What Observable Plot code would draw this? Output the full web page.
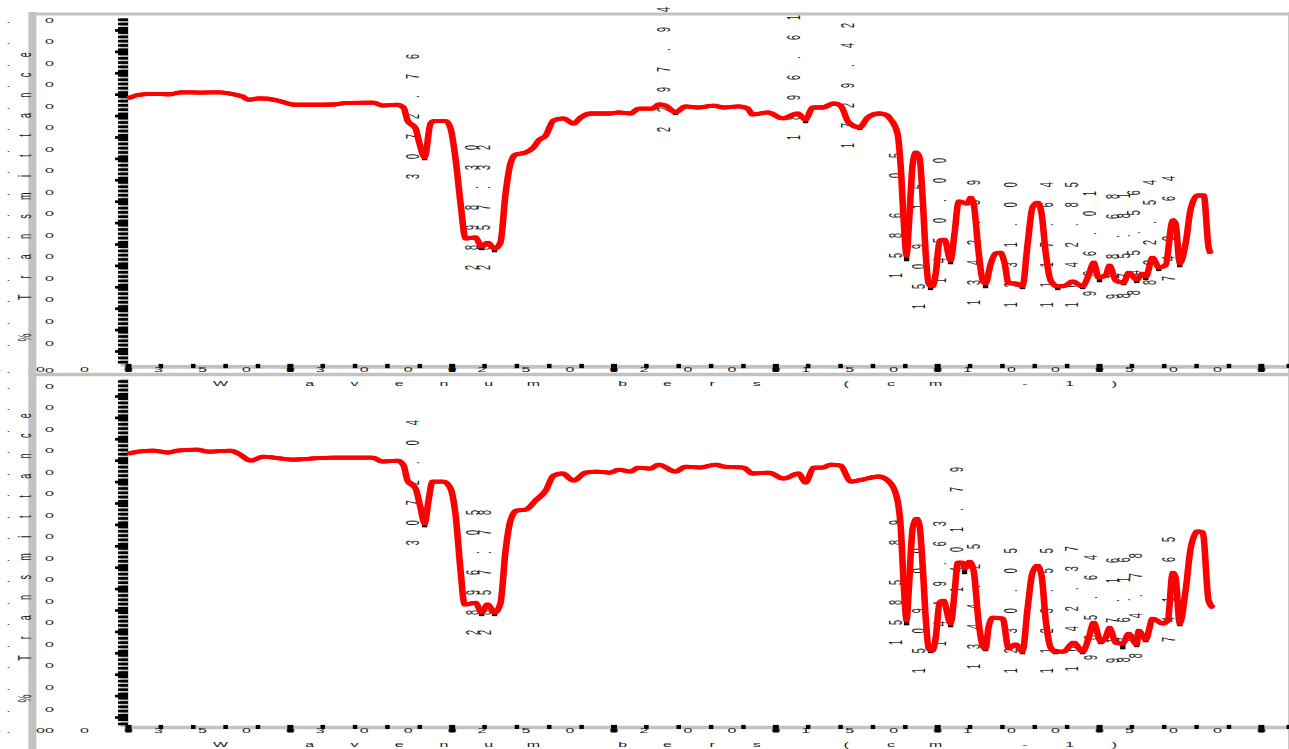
<!DOCTYPE html>
<html><head><meta charset="utf-8">
<style>html,body{margin:0;padding:0;background:#fff;overflow:hidden}svg{display:block}</style>
<script src="https://cdn.jsdelivr.net/npm/d3@7"></script>
<script src="https://cdn.jsdelivr.net/npm/@observablehq/plot@0.6"></script>
</head><body><script>
const topWave=[4000,3969,3923,3870,3839,3777,3716,3676,3648,3629,3598,3570,3530,3490,3428,3367,3323,3243,3215,3169,3150,3138,3113,3101,3085,3067,3057,3020,3005,2990,2974,2959,2928,2909,2891,2869,2851,2835,2820,2804,2773,2749,2733,2711,2687,2656,2625,2603,2572,2511,2486,2449,2424,2381,2362,2341,2310,2279,2242,2192,2161,2115,2087,2072,2025,1979,1933,1908,1886,1855,1821,1800,1775,1741,1716,1682,1661,1645,1624,1614,1605,1596,1590,1577,1568,1556,1546,1537,1528,1516,1506,1494,1479,1460,1448,1435,1408,1398,1389,1373,1361,1352,1336,1321,1306,1293,1281,1259,1238,1222,1207,1191,1179,1166,1151,1129,1105,1083,1052,1034,1018,1003,981,969,950,925,910,885,867,857,836,817,796,774,765,752,734,718,697,678,663,657];
const topT=[118.3,119.9,120.4,120.2,121.1,121,121.1,120.2,119.1,117.6,118.3,118.1,116.9,115.3,115.3,115.4,116.2,116.3,114.9,115.3,113.9,107.9,104.2,97.2,90.8,106.5,107.6,107.6,104.2,90.6,69.1,52.8,53.3,49,50.9,48.1,50.9,73.8,87.8,92,93,95.3,98.6,100.9,107.9,108.9,106.5,109.3,111.2,111.2,111.7,111.2,113.5,113.5,115.4,114.9,111.7,114.5,114,114.9,114,114.5,113.5,110.7,111.7,108.9,111.2,108.4,114,114,115.9,114.9,107,104.7,109.3,111.2,110.7,108.4,101.8,86,61.2,44.8,56.5,87.8,93,90.6,70.5,45.8,31.8,30.4,36.4,51.8,52.3,42.5,55.1,70.1,69.1,71.9,69.1,45.8,33.2,31.8,41.1,45.8,46.2,41.1,31.8,31.8,30.4,50.4,67.3,69.6,64.5,45.8,33.2,30.4,30.8,32.7,30.4,35.5,41.6,34.6,35.5,40.2,33.2,32.2,36.9,33.6,36.4,35,43.9,39.2,40.2,61.2,59.8,41.1,50.4,66.8,72.9,72.9,48.6,45.8];
const bottomWave=[4000,3969,3923,3876,3849,3787,3756,3685,3660,3623,3583,3552,3490,3438,3367,3305,3246,3215,3169,3150,3138,3113,3098,3085,3073,3061,3027,3005,2990,2974,2962,2943,2928,2909,2891,2869,2851,2835,2820,2801,2773,2742,2711,2687,2659,2625,2588,2551,2511,2486,2449,2424,2387,2362,2310,2279,2233,2186,2161,2100,2072,2022,1976,1930,1908,1883,1855,1831,1800,1769,1732,1682,1645,1624,1614,1605,1596,1590,1577,1565,1556,1546,1537,1528,1516,1506,1494,1482,1460,1448,1438,1423,1417,1401,1389,1373,1361,1352,1343,1330,1299,1281,1259,1238,1222,1207,1191,1179,1166,1151,1136,1111,1080,1052,1034,1018,996,981,969,950,928,910,885,879,857,836,805,789,774,765,752,734,718,697,681,663,650];
const bottomT=[123.3,124.2,124.7,123.8,124.7,125.2,124.2,124.7,123.3,120,121.9,121.4,120.5,121,121.4,121.4,121.4,119.6,120,117.7,110.7,107,98.1,90.6,101.4,110.2,110.2,107,95.3,68.6,52.8,53.2,53.7,49,52.8,49,53.2,78,92,96.7,97.1,101.4,106,113,114,110.7,114.4,114.9,114.4,115.8,114.9,116.8,116.3,118.2,114.9,117.2,116.8,118.2,117.2,116.8,114,114.4,111.6,114,109.8,116.8,116.8,118.2,117.7,110.2,111.2,112.6,109.3,101.4,88.7,62.6,45.3,57.9,88.7,92.9,89.7,70,46.7,32.2,31.3,37.3,53.7,54.6,43.9,57.9,72.4,72.4,69.6,72.8,68.6,43.9,33.6,32.2,42,46.7,46.2,32.2,34.1,30.8,51.3,67.7,71,66.3,45.3,32.7,30.8,30.8,35,30.8,36.9,44.3,35.5,37.3,42,35,34.5,39.2,34.1,40.6,36.4,46.2,43.9,45.3,67.7,65.4,43.9,59.3,79.4,86.9,86.4,54.6,51.3];

const topPeakWave=[3085,2909,2869,2310,1908,1741,1596,1522,1460,1352,1238,1129,1052,1000,925,885,857,817,752];
const topPeakT=[90.6,48.6,47.6,111.7,107.9,104.7,43.4,29.9,42,30.8,30.4,29.9,30.4,33.6,32.2,33.2,34.6,38.8,40.6];
const bottomPeakWave=[3085,2909,2869,1596,1522,1460,1417,1352,1238,1136,1052,996,928,885,857,752];
const bottomPeakT=[90.1,48.6,48.6,44.3,31.3,43.4,68.2,32.2,30.8,30.8,30.8,35.5,33.1,34.1,36.4,43.9];

const topLabels=["3072.76","2898.30","2857.32","2297.94","1896.61","1729.42","1586.05","1509.16","1450.00","1342.59","1231.00","1117.64","1042.85","986.01","918.68","875.81","845.56","802.54","740.64"];
const topLabelWave=[3119,2937,2900,2344,1942,1775,1627,1556,1491,1386,1272,1160,1083,1030,959,925,894,842,786];
const topLabelT=[81.8,39.2,39.2,103.7,100,96.2,35.5,21,33.2,22.9,21.9,21.9,21.9,27.1,25.7,26.1,27.5,32.2,34.1];
const bottomLabels=["3072.04","2896.05","2857.78","1585.89","1509.00","1449.63","1401.79","1344.25","1230.05","1123.55","1042.37","985.64","917.16","876.16","844.78","741.65"];
const bottomLabelWave=[3119,2934,2897,1627,1556,1491,1441,1386,1272,1160,1083,1027,959,925,888,786];
const bottomLabelT=[81.7,39.7,39.7,35,21.9,34.5,59.8,23.8,21.9,21.9,22.8,28,26.6,27,28.9,36.4];

const xMajor=[4000,3500,3000,2500,2000,1500,1000,500];
const xMajorLabels=["4000","3500","3000","2500","2000","1500","1000","5000"];
const xMinor=[3900,3800,3700,3600,3400,3300,3200,3100,2900,2800,2700,2600,2400,2300,2200,2100,1900,1800,1700,1600,1400,1300,1200,1100,900,800,700,600,415];
const yLabels=["150.0","140.0","130.0","120.0","110.0","100.0","90.0","80.0","70.0","60.0","50.0","40.0","30.0","20.0","10.0","0.0","-10.0"];
const yLabelPos=[154.7,144.7,134.6,124.6,114.5,104.5,94.4,84.4,74.3,64.3,54.2,44.2,34.1,24.1,14,4];
const yTitle="%Transmittance", xTitle="Wavenumbers (cm-1)";
const yTitleSlots=[0,2,3,4,5,6,7,8,9,10,11,12,13,14];
const xTitleSlots=[0,2,3,4,5,6,7,9,10,11,12,13,14,15,16,18,19,20];

const gray="#c2c2c2", ink="#1a1a1a", font="Liberation Sans";
const W=1289;
const yLabelWave=4244, yTitleWave=4318, xTitleWave=3716;
const penOffsets=[-1.4,0,1.4];

function spread(svg,cls,stride,sx,sy,slots){
  svg.querySelectorAll(`g.${cls} text`).forEach(t=>{
    const s=t.textContent;
    t.setAttribute("x",Array.from(s,(_,i)=>slots(i,s.length)*stride).join(" "));
    t.setAttribute("transform",(t.getAttribute("transform")||"")+` scale(${sx},${sy})`);
  });
}

function panel(o){
  const minor=d3.range(o.tickBottom,o.tickTop+0.01,2), major=d3.range(0,o.tickTop+0.01,10);
  const t=(strs,x,y,cls,extra={})=>Plot.text(strs,{x,y,text:d=>d,fontSize:16,fontFamily:font,fill:ink,className:cls,lineAnchor:"middle",...extra});
  const svg=Plot.plot({
    width:W,height:o.height,margin:0,
    style:{background:"transparent",overflow:"visible"},
    x:{domain:[4000,413],range:[128,W],axis:null},
    y:{domain:o.yDomain,range:[o.height,0],axis:null},
    marks:[
      Plot.ruleX([4297],{y1:o.frameTop,y2:o.frameBottom,stroke:gray,strokeWidth:8}),
      Plot.ruleY([o.topBand],{x1:4297,x2:413,stroke:gray,strokeWidth:o.topBandW}),
      Plot.ruleX([415],{y1:o.frameTop,y2:o.frameBottom,stroke:gray,strokeWidth:1.5}),
      Plot.ruleX([4012],{y1:o.tickTop,y2:o.band,stroke:gray,strokeWidth:8}),
      Plot.ruleY([o.band],{x1:4012,x2:413,stroke:gray,strokeWidth:3.6}),
      Plot.ruleY(minor,{x1:4031,x2:4000,stroke:"#000",strokeWidth:2.7}),
      Plot.ruleY(major,{x1:4040,x2:4000,stroke:"#000",strokeWidth:2.7}),
      Plot.ruleX(xMinor,{y1:o.xt1,y2:o.xt2,stroke:"#000",strokeWidth:4.5}),
      Plot.ruleX(xMajor,{y1:o.xt1,y2:o.xt3,stroke:"#000",strokeWidth:6}),
      t(o.yLabels,()=>yLabelWave,(d,i)=>o.yLabelPos[i],"ylab"),
      t(xMajorLabels,(d,i)=>xMajor[i],()=>o.xLabelT,"xlab"),
      t([xTitle],()=>xTitleWave,()=>o.xTitleT,"xtitle"),
      t([yTitle],()=>yTitleWave,()=>o.yTitleT,"ytitle",{rotate:-90,fontSize:18}),
      t(o.labels,(d,i)=>o.labelWave[i],(d,i)=>o.labelT[i],"peak",{rotate:-90,fontSize:18}),
      Plot.dot(o.peakWave,{x:d=>d,y:(d,i)=>o.peakT[i],symbol:"square",r:3,fill:"#000",stroke:null}),
      ...penOffsets.map(dx=>Plot.line(o.wave,{x:d=>d,y:(d,i)=>o.T[i],dx,curve:"monotone-x",stroke:"#ff0000",strokeWidth:3.8,strokeLinejoin:"round",strokeLinecap:"butt"}))
    ]
  });
  spread(svg,"ylab",41,1,0.5,(i,n)=>i-(n-1));
  spread(svg,"xlab",44,1,0.5,(i,n)=>i-(n-1));
  spread(svg,"xtitle",44.7,1,0.5,i=>xTitleSlots[i]);
  spread(svg,"ytitle",40.4,0.5,1,i=>yTitleSlots[i]);
  spread(svg,"peak",40,0.5,1,i=>i);
  return svg;
}

const topPanel=panel({height:390,yDomain:[-18.22,164],frameTop:158.4,frameBottom:-11.7,topBand:157.7,topBandW:3,
  band:-7.2,tickTop:155.6,tickBottom:-5,xt1:-6,xt2:-8,xt3:-9.8,xLabelT:-8.4,xTitleT:-15,yTitleT:6.5,
  yLabels,yLabelPos:[...yLabelPos,-8.9],labels:topLabels,labelWave:topLabelWave,labelT:topLabelT,
  peakWave:topPeakWave,peakT:topPeakT,wave:topWave,T:topT});
const bottomPanel=panel({height:377,yDomain:[-14.95,161.2],frameTop:160.9,frameBottom:-14.95,topBand:160.3,topBandW:3.6,
  band:-4.7,tickTop:158,tickBottom:-3,xt1:-3.7,xt2:-5.6,xt3:-7,xLabelT:-6.1,xTitleT:-12.6,yTitleT:8.9,
  yLabels,yLabelPos:[...yLabelPos,-6.1],labels:bottomLabels,labelWave:bottomLabelWave,labelT:bottomLabelT,
  peakWave:bottomPeakWave,peakT:bottomPeakT,wave:bottomWave,T:bottomT});
bottomPanel.style.marginTop="-18px";
document.body.append(topPanel,bottomPanel);
</script></body></html>
